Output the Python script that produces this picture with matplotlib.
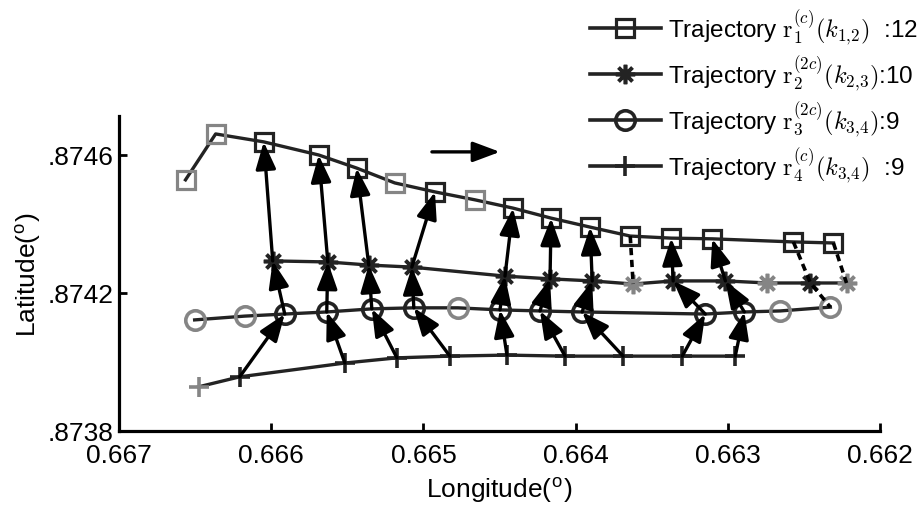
import matplotlib
matplotlib.use("Agg")
import matplotlib.pyplot as plt
from matplotlib.lines import Line2D
from matplotlib.ticker import FuncFormatter

plt.rcParams['font.family'] = ['Liberation Sans', 'DejaVu Sans']
plt.rcParams['mathtext.fontset'] = 'cm'

# Trajectory r1 (squares)
t1_lon = [0.666563, 0.666365, 0.666049, 0.665688, 0.665438, 0.665188, 0.664924, 0.664661,
          0.664411, 0.664161, 0.663905, 0.663641, 0.663372, 0.663102, 0.662569, 0.662306]
t1_lat = [0.874528, 0.874661, 0.874638, 0.874600, 0.874562, 0.874519, 0.874493, 0.874470,
          0.874446, 0.874417, 0.874391, 0.874365, 0.874359, 0.874357, 0.874348, 0.874345]
t1_gray = [0, 1, 5, 7]

# Trajectory r2 (asterisks)
t2_lon = [0.665990, 0.665628, 0.665359, 0.665076, 0.664464, 0.664168, 0.663891,
          0.663622, 0.663359, 0.663016, 0.662740, 0.662457, 0.662220]
t2_lat = [0.874293, 0.874290, 0.874281, 0.874275, 0.874249, 0.874241, 0.874235,
          0.874226, 0.874235, 0.874235, 0.874229, 0.874229, 0.874229]
t2_gray = [7, 10, 12]

# Trajectory r3 (circles)
t3_lon = [0.666503, 0.666174, 0.665911, 0.665635, 0.665339, 0.665063, 0.664773,
          0.664497, 0.664234, 0.663957, 0.663148, 0.662891, 0.662655, 0.662326]
t3_lat = [0.874122, 0.874133, 0.874139, 0.874145, 0.874154, 0.874157, 0.874157,
          0.874151, 0.874148, 0.874145, 0.874139, 0.874145, 0.874148, 0.874159]
t3_gray = [0, 1, 6, 12, 13]

# Trajectory r4 (plus)
t4_lon = [0.666477, 0.666207, 0.665516, 0.665174, 0.664826, 0.664451,
          0.664069, 0.663688, 0.663299, 0.662951]
t4_lat = [0.873928, 0.873957, 0.873997, 0.874012, 0.874017, 0.874020,
          0.874017, 0.874017, 0.874017, 0.874017]
t4_gray = [0]

# chains of arrows: (plus idx, circle idx, asterisk idx, square idx)
chains = [(1, 2, 0, 2), (2, 3, 1, 3), (3, 4, 2, 4), (4, 5, 3, 6), (5, 7, 4, 8),
          (6, 8, 5, 9), (7, 9, 6, 10), (8, 10, 8, 12), (9, 11, 9, 13)]
# dashed links: (trajectory, idx) pairs
dashed = [[(1, 11), (2, 7)], [(1, 14), (2, 11), (3, 13)], [(1, 15), (2, 12)]]

labels = [r'Trajectory $\mathrm{r}_1^{(c)}(k_{1{,}2})$  :12',
          r'Trajectory $\mathrm{r}_2^{(2c)}(k_{2{,}3})$:10',
          r'Trajectory $\mathrm{r}_3^{(2c)}(k_{3{,}4})$:9',
          r'Trajectory $\mathrm{r}_4^{(c)}(k_{3{,}4})$  :9']

dir_lon = [0.664944, 0.664497]
dir_lat = [0.874609, 0.874609]

dark = '#232323'
gray = '#858585'

fig = plt.figure(figsize=(9.22, 5.06), dpi=100)
ax = fig.add_axes([119 / 922, 1 - 432 / 506, 761 / 922, 315 / 506])

trajs = [(t1_lon, t1_lat, t1_gray, 's', 13, 2.3),
         (t2_lon, t2_lat, t2_gray, (8, 2, 0), 14, 2.6),
         (t3_lon, t3_lat, t3_gray, 'o', 14, 2.6),
         (t4_lon, t4_lat, t4_gray, '+', 15, 2.6)]

for lon, lat, grey_idx, mk, ms, mew in trajs:
    ax.plot(lon, lat, '-', color=dark, lw=2.4, zorder=2)
    blk = [i for i in range(len(lon)) if i not in grey_idx]
    ax.plot([lon[i] for i in blk], [lat[i] for i in blk], ls='none', marker=mk, ms=ms,
            mew=mew, mec=dark, mfc='none', zorder=3)
    ax.plot([lon[i] for i in grey_idx], [lat[i] for i in grey_idx], ls='none', marker=mk,
            ms=ms, mew=mew, mec=gray, mfc='none', zorder=3)

pts = {1: (t1_lon, t1_lat), 2: (t2_lon, t2_lat), 3: (t3_lon, t3_lat), 4: (t4_lon, t4_lat)}


def arrow(a, b):
    ax.annotate('', xy=b, xytext=a,
                arrowprops=dict(arrowstyle='-|>,head_length=0.75,head_width=0.28',
                                mutation_scale=22, color='black', lw=2.4,
                                shrinkA=0, shrinkB=0), zorder=5)


for p, c, s, q in chains:
    seq = [(4, p), (3, c), (2, s), (1, q)]
    for (ta, ia), (tb, ib) in zip(seq[:-1], seq[1:]):
        arrow((pts[ta][0][ia], pts[ta][1][ia]), (pts[tb][0][ib], pts[tb][1][ib]))

for link in dashed:
    ax.plot([pts[t][0][i] for t, i in link], [pts[t][1][i] for t, i in link],
            ls=(0, (2.0, 1.3)), color='black', lw=2.6, zorder=4)

arrow((dir_lon[0], dir_lat[0]), (dir_lon[1], dir_lat[1]))

ax.set_xlim(0.667, 0.662)
ax.set_ylim(0.8738, 0.874713)
ax.set_xticks([0.667, 0.666, 0.665, 0.664, 0.663, 0.662])
ax.set_yticks([0.8738, 0.8742, 0.8746])
ax.xaxis.set_major_formatter(FuncFormatter(lambda v, p: f'{v:.3f}'))
ax.yaxis.set_major_formatter(FuncFormatter(lambda v, p: f'{v:.4f}'[1:]))
ax.tick_params(direction='in', length=6, width=2, labelsize=19)
ax.tick_params(axis='x', pad=9)
ax.tick_params(axis='y', pad=4)
for side in ['top', 'right']:
    ax.spines[side].set_visible(False)
for side in ['left', 'bottom']:
    ax.spines[side].set_linewidth(2.3)
ax.set_xlabel(r'Longitude($^\mathregular{o}$)', fontsize=19, labelpad=5)
ax.set_ylabel(r'Latitude($^\mathregular{o}$)', fontsize=19, labelpad=3)

markers = [('s', 13, 2.3), ((8, 2, 0), 14, 2.6), ('o', 14, 2.6), ('+', 15, 2.6)]
handles = [Line2D([], [], color=dark, lw=2.6, marker=m, ms=s, mew=w, mec=dark, mfc='none')
           for m, s, w in markers]
fig.legend(handles, labels, loc='upper left', bbox_to_anchor=(0.627, 1.008), frameon=False,
           handlelength=2.9, handletextpad=0.3, labelspacing=0.26, borderaxespad=0.1,
           fontsize=17.5)

fig.savefig('out.png', dpi=100)
